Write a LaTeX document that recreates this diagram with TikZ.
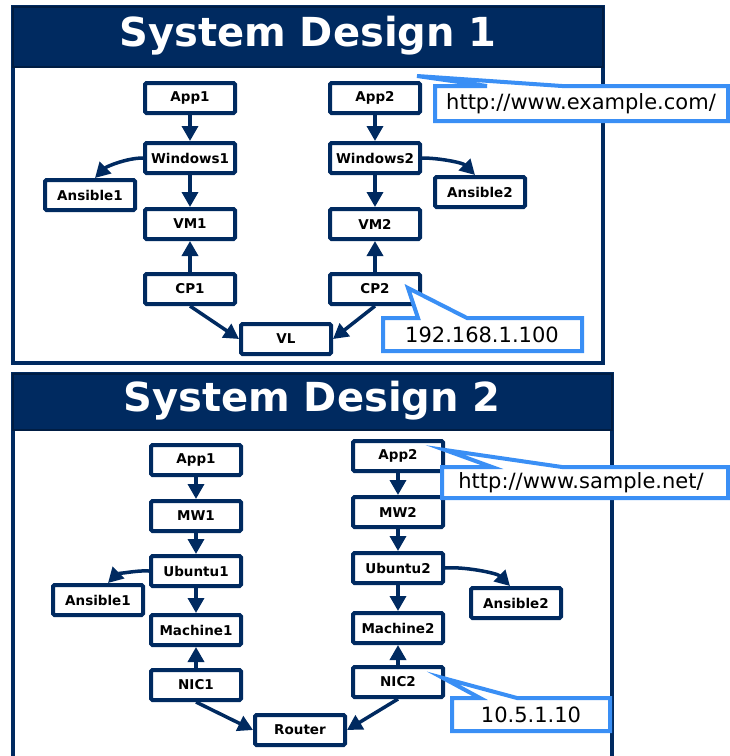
\documentclass[tikz,border=0pt]{standalone}
\usepackage{fontspec}
\setmainfont{DejaVu Sans}
\usetikzlibrary{arrows.meta}
\definecolor{navy}{RGB}{0,42,96}
\definecolor{callblue}{RGB}{58,143,245}

\begin{document}
\begin{tikzpicture}[x=1pt,y=-1pt]
\tikzstyle{box}=[draw=navy, line width=4pt, fill=white, rounded corners=1.5pt, minimum width=90pt, minimum height=30pt, inner sep=0pt, font=\fontsize{13.5}{15}\selectfont\bfseries]
\tikzstyle{link}=[draw=navy, line width=3.5pt, -{Triangle[length=15pt,width=16pt]}]
\tikzstyle{bar}=[fill=navy, draw=navy!70!black, line width=2pt]
\tikzstyle{frame}=[draw=navy, line width=4pt]
\tikzstyle{title}=[text=white, font=\fontsize{40}{44}\selectfont\bfseries]
\tikzstyle{balloon}=[draw=callblue, line width=4pt, fill=white, line join=miter]
\tikzstyle{tag}=[font=\fontsize{21}{24}\selectfont, inner sep=0pt]
\useasboundingbox (0,0) rectangle (730,756);

\draw[frame] (13,7) rectangle (603,363);
\draw[bar] (13,7) rectangle (603,67);
\node[title] (title1) at (308,36) {System Design 1};

\node[box] (app1) at (190,98) {App1};
\node[box] (win1) at (190,158) {Windows1};
\node[box] (ans1) at (90,195) {Ansible1};
\node[box] (vm1) at (190,224) {VM1};
\node[box] (cp1) at (190,289) {CP1};
\node[box] (vl) at (286,339) {VL};
\node[box] (app2) at (375,98) {App2};
\node[box] (win2) at (375,158) {Windows2};
\node[box] (ans2) at (480,192) {Ansible2};
\node[box] (vm2) at (375,224) {VM2};
\node[box] (cp2) at (375,289) {CP2};

\draw[link] (app1) -- (win1);
\draw[link] (win1) -- (vm1);
\draw[link] (cp1) -- (vm1);
\draw[link] (cp1.south) -- (vl.west);
\draw[link] (win1.west) to[out=180,in=45,looseness=0.8] ([xshift=5pt]ans1.north);
\draw[link] (app2) -- (win2);
\draw[link] (win2) -- (vm2);
\draw[link] (cp2) -- (vm2);
\draw[link] (cp2.south) -- (vl.east);
\draw[link] (win2.east) to[out=0,in=135,looseness=0.8] ([xshift=-5pt]ans2.north);

\coordinate (tip1) at (417,76);
\draw[balloon] (435,86) -- (487,86) -- (tip1) -- (562,86) -- (728,86) -- (728,121) -- (435,121) -- cycle;
\node[tag] (url1) at (581,104) {http://www.example.com/};
\coordinate (tip2) at (408,288);
\draw[balloon] (383,318) -- (418,318) -- (tip2) -- (467,318) -- (582,318) -- (582,351) -- (383,351) -- cycle;
\node[tag] (ip1) at (482,335) {192.168.1.100};

\draw[frame] (13,374) rectangle (612,770);
\draw[bar] (13,374) rectangle (612,430);
\node[title] (title2) at (312,401) {System Design 2};

\node[box] (appa) at (196,460) {App1};
\node[box] (mwa) at (196,516) {MW1};
\node[box] (ubua) at (196,571) {Ubuntu1};
\node[box] (ansa) at (98,600) {Ansible1};
\node[box] (macha) at (196,630) {Machine1};
\node[box] (nica) at (196,685) {NIC1};
\node[box] (router) at (300,730) {Router};
\node[box] (appb) at (398,456) {App2};
\node[box] (mwb) at (398,512) {MW2};
\node[box] (ubub) at (398,568) {Ubuntu2};
\node[box] (ansb) at (516,603) {Ansible2};
\node[box] (machb) at (398,628) {Machine2};
\node[box] (nicb) at (398,682) {NIC2};

\draw[link] (appa) -- (mwa);
\draw[link] (mwa) -- (ubua);
\draw[link] (ubua) -- (macha);
\draw[link] (nica) -- (macha);
\draw[link] (nica.south) -- (router.west);
\draw[link] (ubua.west) to[out=175,in=45,looseness=0.7] ([xshift=10pt]ansa.north);
\draw[link] (appb) -- (mwb);
\draw[link] (mwb) -- (ubub);
\draw[link] (ubub) -- (machb);
\draw[link] (nicb) -- (machb);
\draw[link] (nicb.south) -- (router.east);
\draw[link] (ubub.east) to[out=5,in=135,looseness=0.7] ([xshift=-6pt]ansb.north);

\coordinate (tip3) at (445,450);
\draw[balloon] (442,467) -- (492,467) -- (tip3) -- (562,467) -- (728,467) -- (728,498) -- (442,498) -- cycle;
\node[tag] (url2) at (581,483) {http://www.sample.net/};
\coordinate (tip4) at (443,678);
\draw[balloon] (452,698) -- (480,698) -- (tip4) -- (517,698) -- (610,698) -- (610,731) -- (452,731) -- cycle;
\node[tag] (ip2) at (531,715) {10.5.1.10};
\end{tikzpicture}
\end{document}
